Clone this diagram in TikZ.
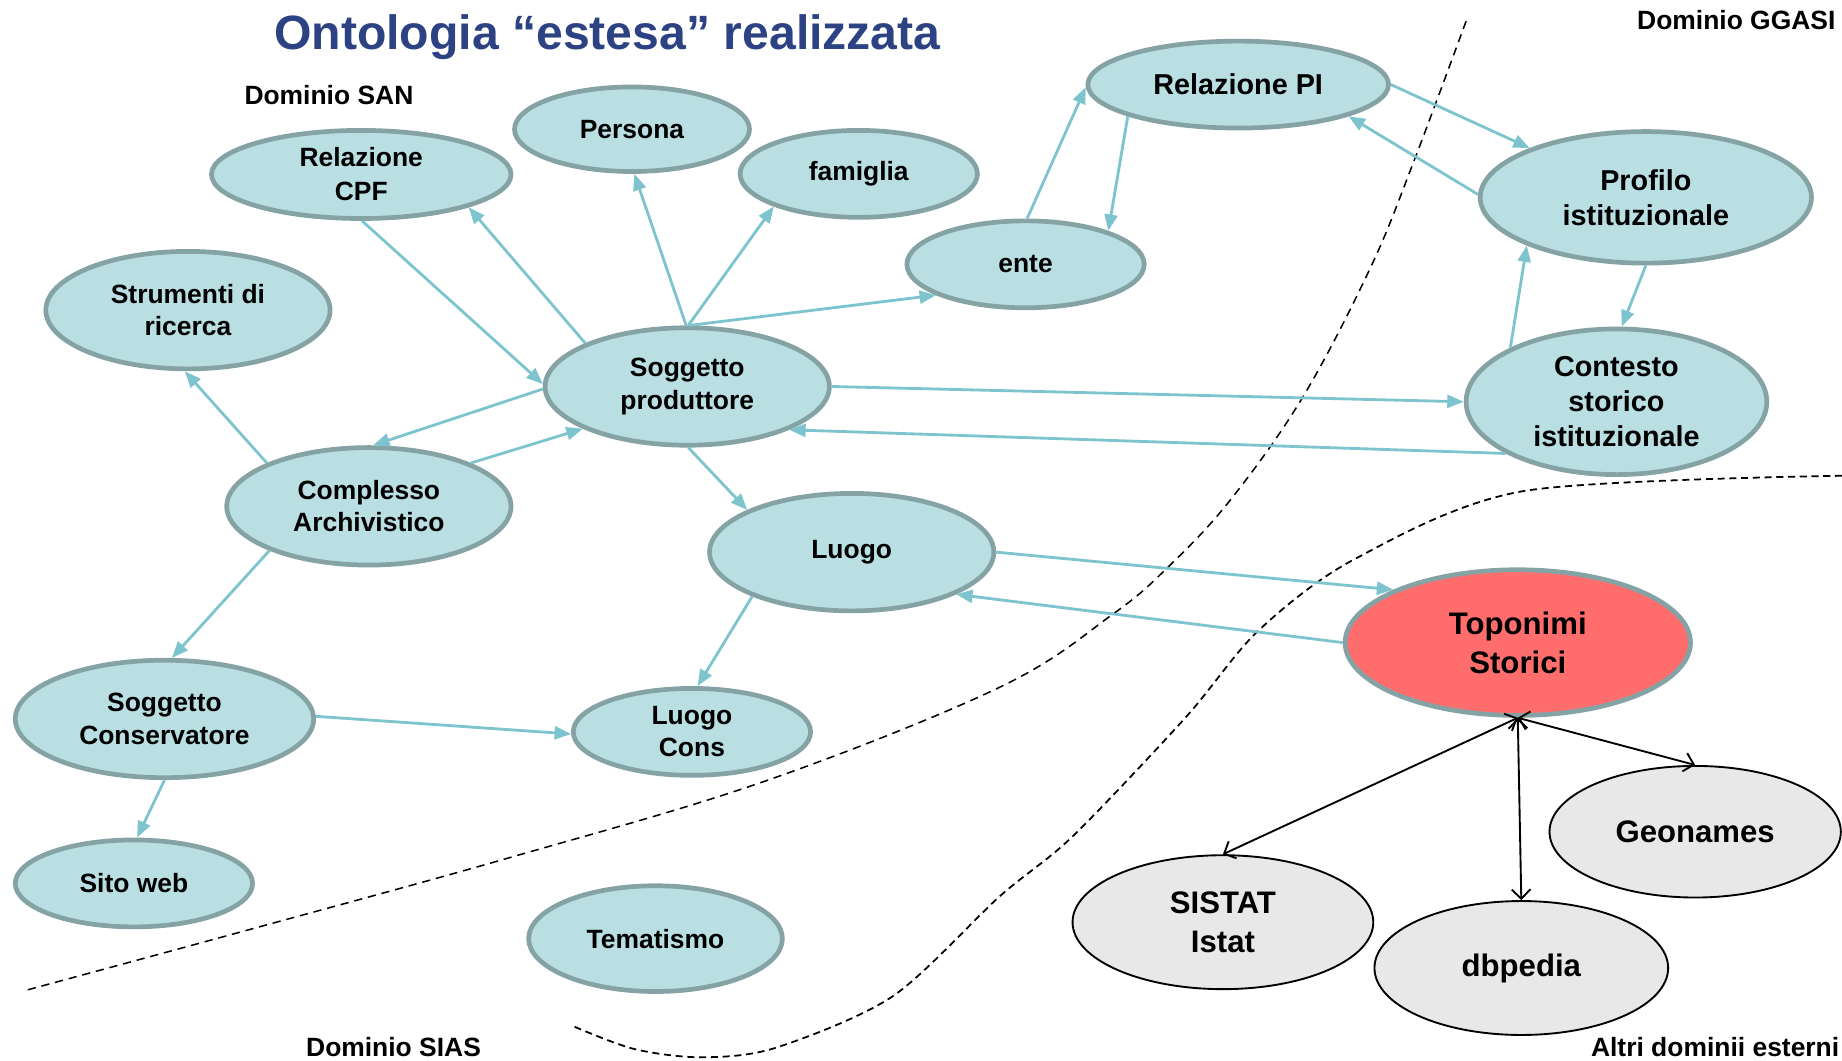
\documentclass[tikz,border=0pt]{standalone}
\usepackage{fontspec}
\setmainfont{Liberation Sans}
\usetikzlibrary{shapes.geometric,arrows.meta}
\definecolor{tfill}{HTML}{B9DFE3}
\definecolor{tborder}{HTML}{85A2A5}
\definecolor{tarrow}{HTML}{7DC4CE}
\definecolor{tred}{HTML}{FF6D6D}
\definecolor{extfill}{HTML}{E8E8E8}
\definecolor{ttitle}{HTML}{2C4283}
\newcommand{\fsN}{\bfseries\fontsize{22.5}{27.5}\selectfont}
\newcommand{\fsM}{\bfseries\fontsize{24.5}{30}\selectfont}
\newcommand{\fsL}{\bfseries\fontsize{26.5}{33}\selectfont}
\begin{document}
\begin{tikzpicture}[x=1pt,y=-1pt,
  ell/.style={ellipse, draw=tborder, fill=tfill, line width=4pt, inner sep=0pt, align=center, font=\fsN},
  ext/.style={ellipse, draw=black, fill=extfill, line width=1.6pt, inner sep=0pt, align=center, font=\fsL},
  arr/.style={draw=tarrow, line width=2.4pt, -{Triangle[length=14pt,width=11pt]}},
  barr/.style={draw=black, line width=1.6pt, {Straight Barb[length=8pt,width=16pt,line width=1.6pt]}-{Straight Barb[length=8pt,width=16pt,line width=1.6pt]}},
  lbl/.style={font=\fsN, inner sep=0pt},
  dashA/.style={draw=black, line width=1.3pt, dash pattern=on 7pt off 5pt},
  dashB/.style={draw=black, line width=1.5pt, dash pattern=on 6pt off 4pt}]
\useasboundingbox (0,0) rectangle (1568,903);

% domain boundaries
\draw[dashA] plot[smooth, tension=0.6] coordinates {(1248,18) (1204,136) (1167,227) (1109,338) (1047,426) (994,483) (947,523) (851,585) (651,665) (434,730) (217,790) (22,843)};
\draw[dashB] plot[smooth, tension=0.5] coordinates {(1568,405) (1297,418) (1153,476) (1071,537) (1009,611) (913,712) (851,763) (760,848) (660,892) (597,900) (540,893) (489,874)};

% title and labels
\node[font=\bfseries\fontsize{41}{48}\selectfont, text=ttitle, anchor=base, inner sep=0pt] (title) at (517,42.5) {Ontologia “estesa” realizzata};
\node[lbl] (dsan) at (280,81) {Dominio SAN};
\node[lbl] (dggasi) at (1478,17) {Dominio GGASI};
\node[lbl] (dsias) at (335,891) {Dominio SIAS};
\node[lbl] (dalt) at (1460,891) {Altri dominii esterni};

% nodes
\node[ell, minimum width=255pt, minimum height=75pt, font=\bfseries\fontsize{22.5}{29}\selectfont] (CPF) at (307.5,148.5) {Relazione\\CPF};
\node[ell, minimum width=200pt, minimum height=72pt] (PER) at (538,110) {Persona};
\node[ell, minimum width=202pt, minimum height=74pt] (FAM) at (731,148) {famiglia};
\node[ell, minimum width=202pt, minimum height=74pt] (ENTE) at (873,225) {ente};
\node[ell, minimum width=256pt, minimum height=74pt, font=\fsM] (RPI) at (1054,72) {Relazione PI};
\node[ell, minimum width=282pt, minimum height=112pt, font=\fsM] (PROF) at (1401,168) {Profilo\\istituzionale};
\node[ell, minimum width=256pt, minimum height=124pt, font=\fsM] (CONT) at (1376,342) {Contesto\\storico\\istituzionale};
\node[ell, minimum width=242pt, minimum height=100pt] (STR) at (160,264) {Strumenti di\\ricerca};
\node[ell, minimum width=242pt, minimum height=100pt] (SP) at (585,329) {Soggetto\\produttore};
\node[ell, minimum width=242pt, minimum height=100pt] (CA) at (314,431) {Complesso\\Archivistico};
\node[ell, minimum width=242pt, minimum height=100pt] (LUO) at (725,470) {Luogo};
\node[ell, minimum width=254pt, minimum height=100pt] (SC) at (140,612) {Soggetto\\Conservatore};
\node[ell, minimum width=202pt, minimum height=74pt] (LC) at (589,623) {Luogo\\Cons};
\node[ell, minimum width=202pt, minimum height=74pt] (SW) at (114,752) {Sito web};
\node[ell, minimum width=216pt, minimum height=90pt] (TEM) at (558,799) {Tematismo};
\node[ell, fill=tred, minimum width=294pt, minimum height=124pt, font=\fsL] (TOP) at (1292,547) {Toponimi\\Storici};
\node[ext, minimum width=248pt, minimum height=112pt] (GEO) at (1443,708) {Geonames};
\node[ext, minimum width=256pt, minimum height=114pt] (SIS) at (1041,785) {SISTAT\\Istat};
\node[ext, minimum width=250pt, minimum height=114pt] (DBP) at (1295,824) {dbpedia};

% teal connectors
\draw[arr] (SP.157) -- (CPF.-17);
\draw[arr] (CPF.-89) -- (SP.179);
\draw[arr] (SP.181) -- (CA.86);
\draw[arr] (CA.23) -- (SP.202);
\draw[arr] (SP.91) -- (PER.-87);
\draw[arr] (SP.89) -- (FAM.201);
\draw[arr] (SP.88) -- (ENTE.199);
\draw[arr] (SP.0) -- (CONT.180);
\draw[arr] (CONT.205) -- (SP.-23);
\draw[arr] (SP.-89) -- (LUO.158);
\draw[arr] (CA.157) -- (STR.-93);
\draw[arr] (CA.204) -- (SC.83);
\draw[arr] (LUO.204) -- (LC.83);
\draw[arr] (SC.1) -- (LC.181);
\draw[arr] (SC.-90) -- (SW.86);
\draw[arr] (LUO.0) -- (TOP.157);
\draw[arr] (TOP.180) -- (LUO.-22);
\draw[arr] (ENTE.88) -- (RPI.181);
\draw[arr] (RPI.196) -- (ENTE.22);
\draw[arr] (RPI.0) -- (PROF.157);
\draw[arr] (PROF.179) -- (RPI.-16);
\draw[arr] (PROF.-90) -- (CONT.86);
\draw[arr] (CONT.153) -- (PROF.202);

% black connectors
\draw[barr] (TOP.-90) -- (SIS.90);
\draw[barr] (TOP.-90) -- (DBP.90);
\draw[barr] (TOP.-90) -- (GEO.90);
\end{tikzpicture}
\end{document}
